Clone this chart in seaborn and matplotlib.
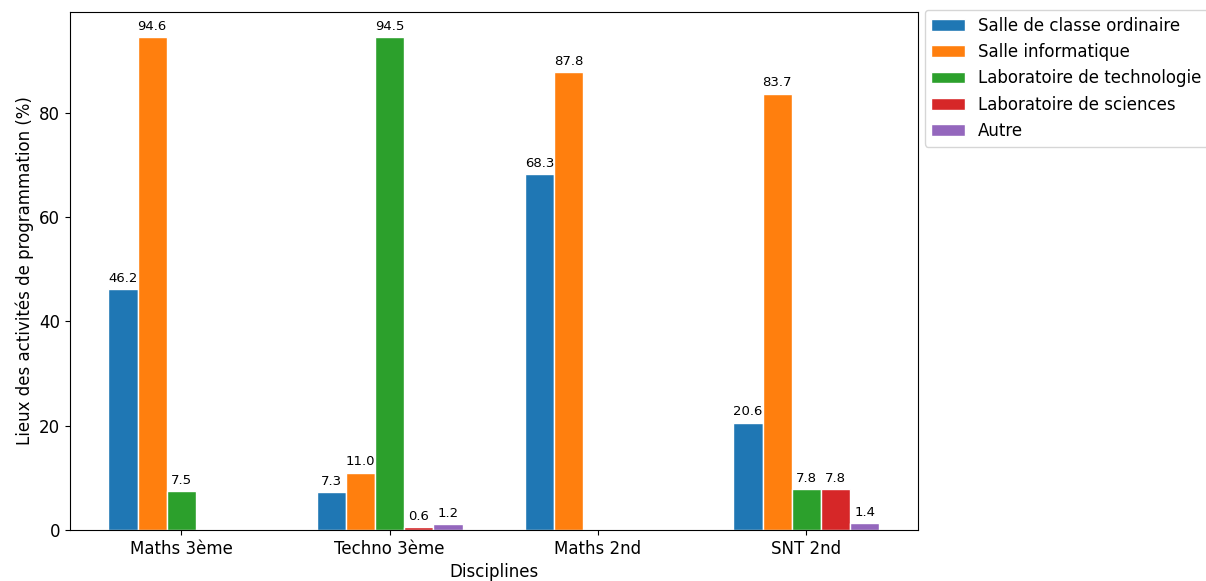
import pandas as pd
import matplotlib
matplotlib.use("Agg")
import matplotlib.pyplot as plt
import seaborn as sns

# Data
disciplines = ["Maths 3ème", "Techno 3ème", "Maths 2nd", "SNT 2nd"]
lieux = [
    "Salle de classe ordinaire",
    "Salle informatique",
    "Laboratoire de technologie",
    "Laboratoire de sciences",
    "Autre",
]
salle_classe = [46.2, 7.3, 68.3, 20.6]
salle_info = [94.6, 11.0, 87.8, 83.7]
labo_techno = [7.5, 94.5, 0.0, 7.8]
labo_sciences = [0.0, 0.6, 0.0, 7.8]
autre = [0.0, 1.2, 0.0, 1.4]

series = [salle_classe, salle_info, labo_techno, labo_sciences, autre]
rows = []
for lieu, vals in zip(lieux, series):
    for d, v in zip(disciplines, vals):
        rows.append({"Discipline": d, "Lieu": lieu, "Pourcentage": v})
df = pd.DataFrame(rows)

fig = plt.figure(figsize=(12.06, 5.81), dpi=100)
ax = fig.add_axes([0.058, 0.0878, 0.703, 0.8915])

sns.barplot(
    data=df, x="Discipline", y="Pourcentage", hue="Lieu",
    order=disciplines, hue_order=lieux,
    palette=sns.color_palette("tab10", 5), saturation=1,
    width=0.7, edgecolor="white", linewidth=1, errorbar=None, ax=ax,
)

# Value labels, only for non-zero bars
for container in ax.containers:
    labels = [f"{v:.1f}" if v > 0 else "" for v in container.datavalues]
    ax.bar_label(container, labels=labels, padding=3, fontsize=9.5)

ax.set_xlim(-0.535, 3.535)
ax.set_ylim(0, max(salle_info) * 1.05)
ax.set_xlabel("Disciplines", fontsize=12)
ax.set_ylabel("Lieux des activités de programmation (%)", fontsize=12)
ax.tick_params(labelsize=12)

handles, labels = ax.get_legend_handles_labels()
ax.legend(handles, labels, loc="upper left", bbox_to_anchor=(1.008, 1.004),
          borderaxespad=0, fontsize=12)

fig.savefig("out.png", dpi=100)
